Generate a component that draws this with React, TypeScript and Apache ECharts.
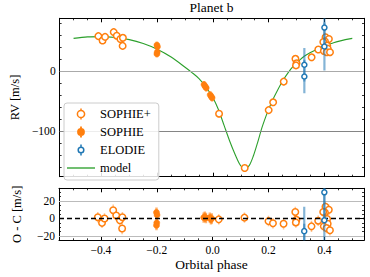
import React, { useEffect, useRef } from 'react';
import * as echarts from 'echarts';

// ---------- data ----------
const sophiePlusPhase = [-0.411, -0.396, -0.387, -0.356, -0.345, -0.332, -0.323, -0.324, 0.022, 0.114, 0.200, 0.216, 0.254, 0.296, 0.300, 0.298, 0.354, 0.378, 0.404, 0.416, 0.402, 0.396, 0.410, 0.412, 0.398, 0.408, 0.420];
const sophiePlusRV = [57.8, 50.5, 56.5, 64.5, 58.5, 53, 55, 41.5, -71.5, -162, -65.5, -52.5, -18, 20, 12.5, 9, 22.5, 35.5, 56, 53, 49, 48, 42, 37, 33, 31, 31];
const sophiePlusErr = [6, 6, 6, 6.5, 6, 6, 6, 6.5, 6, 6, 6, 6, 6.5, 6, 6, 6, 6.5, 6, 6.5, 6, 6, 6, 6, 6, 6, 6, 6];
const sophiePlusResidual = [1.5, -5, 0, 9.5, 3.5, -2, 1.5, -11.5, -1, 1, -3, -5.5, -6, 7.5, -1.5, -4.5, -9, -2.5, 13.5, 10, 7, 7.5, -0.5, -6, -9, -11, -13.5];

const sophiePhase = [-0.201, -0.199, -0.200, -0.201, -0.032, -0.028, -0.024, -0.010, -0.006, -0.003];
const sophieRV = [43, 40, 31, 28, -23, -26, -28.5, -40, -43, -45];
const sophieErr = [5.5, 5.5, 5.5, 5.5, 6, 6, 6, 6, 6, 6];
const sophieResidual = [7, 4, -5, -8, 1, 2, 0.5, 1, -1, 0];

const elodiePhase = [0.328, 0.328, 0.400, 0.400];
const elodieRV = [10, -9.5, 72, 40.5];
const elodieErr = [28, 28, 35, 40];
const elodieResidual = [-14.5, -34, 30, -2];

const modelPhase = [-0.5, -0.45, -0.4, -0.35, -0.3, -0.25, -0.2, -0.15, -0.1, -0.075, -0.05, -0.025, 0, 0.02, 0.04, 0.06, 0.08, 0.095, 0.105, 0.115, 0.13, 0.145, 0.16, 0.175, 0.19, 0.2, 0.215, 0.23, 0.25, 0.27, 0.29, 0.31, 0.33, 0.35, 0.375, 0.4, 0.425, 0.45, 0.475, 0.5];
const modelRV = [54, 56.5, 57, 55.5, 52, 45.5, 36, 23, 6, -3, -13, -27, -45, -65, -91, -117, -140, -155, -161, -163, -158, -142, -120, -96, -76, -64, -48, -34, -17, -3, 8.5, 17.5, 25, 30.5, 36.5, 42, 45.5, 49, 52, 54];

// ticks
const phaseMajorTicks = [-0.4, -0.2, 0, 0.2, 0.4];
const phaseMinorTicks = [-0.5, -0.45, -0.35, -0.3, -0.25, -0.15, -0.1, -0.05, 0.05, 0.1, 0.15, 0.25, 0.3, 0.35, 0.45, 0.5];
const rvMajorTicks = [-100, 0];
const rvMinorTicks = [-160, -140, -120, -80, -60, -40, -20, 20, 40, 60, 80];
const resMajorTicks = [-20, 0, 20];
const resMinorTicks = [-25, -15, -10, -5, 5, 10, 15, 25, 30];

// reference lines
const rvRefLines = [0, -100];
const resGridLines = [20, -20];
const resZeroLine = 0;

const FONT = 'Liberation Serif';
const TICK_SIZE = 11.5;
const ORANGE = '#ff7f0e';
const BLUE = '#1f77b4';
const GREEN = '#2ca02c';

const PHASE_MIN = -0.55;
const PHASE_MAX = 0.542;

const fmtMinus = (s: string) => s.replace('-', '\u2212');

function xAxes(grid: number, showLabels: boolean, name: string) {
  const base: any = { type: 'value', gridIndex: grid, min: PHASE_MIN, max: PHASE_MAX, splitLine: { show: false } };
  const line = { show: true, onZero: false, lineStyle: { color: '#000', width: 1 } };
  const noLine = { show: false, onZero: false };
  const major = { show: true, inside: true, length: 4, customValues: phaseMajorTicks, lineStyle: { color: '#000', width: 1 } };
  const minor = { show: true, inside: true, length: 2, customValues: phaseMinorTicks, lineStyle: { color: '#000', width: 0.8 } };
  return [
    {
      ...base, position: 'bottom', axisLine: line, axisTick: major,
      axisLabel: {
        show: showLabels, customValues: phaseMajorTicks, margin: 4, color: '#000', fontFamily: FONT, fontSize: TICK_SIZE, fontWeight: 'normal',
        formatter: (v: number) => fmtMinus(v.toFixed(1)),
      },
      name: name, nameLocation: 'middle', nameGap: 17,
      nameTextStyle: { color: '#000', fontFamily: FONT, fontSize: 13.5, fontWeight: 'normal' },
    },
    { ...base, position: 'bottom', axisLine: noLine, axisTick: minor, axisLabel: { show: false } },
    { ...base, position: 'top', axisLine: line, axisTick: major, axisLabel: { show: false } },
    { ...base, position: 'top', axisLine: noLine, axisTick: minor, axisLabel: { show: false } },
  ];
}

function yAxes(grid: number, min: number, max: number, majors: number[], minors: number[], name: string, nameGap: number) {
  const base: any = { type: 'value', gridIndex: grid, min, max, splitLine: { show: false } };
  const line = { show: true, onZero: false, lineStyle: { color: '#000', width: 1 } };
  const noLine = { show: false, onZero: false };
  const major = { show: true, inside: true, length: 4, customValues: majors, lineStyle: { color: '#000', width: 1 } };
  const minor = { show: true, inside: true, length: 2, customValues: minors, lineStyle: { color: '#000', width: 0.8 } };
  return [
    {
      ...base, position: 'left', axisLine: line, axisTick: major,
      axisLabel: {
        show: true, customValues: majors, margin: 4, color: '#000', fontFamily: FONT, fontSize: TICK_SIZE, fontWeight: 'normal',
        formatter: (v: number) => fmtMinus(String(v)),
      },
      name, nameLocation: 'middle', nameRotate: 90, nameGap,
      nameTextStyle: { color: '#000', fontFamily: FONT, fontSize: 12.5, fontWeight: 'normal' },
    },
    { ...base, position: 'left', axisLine: noLine, axisTick: minor, axisLabel: { show: false } },
    { ...base, position: 'right', axisLine: line, axisTick: major, axisLabel: { show: false } },
    { ...base, position: 'right', axisLine: noLine, axisTick: minor, axisLabel: { show: false } },
  ];
}

const triples = (xs: number[], ys: number[], es: number[]) => xs.map((x, i) => [x, ys[i], es[i]]);
const pairs = (xs: number[], ys: number[]) => xs.map((x, i) => [x, ys[i]]);

function errorBars(name: string, axisIdx: number, data: number[][], color: string, width: number, opacity: number, z: number) {
  return {
    name, type: 'custom', xAxisIndex: axisIdx, yAxisIndex: axisIdx, clip: true, z, silent: true,
    data, encode: { x: 0, y: 1 },
    renderItem: (_params: any, api: any) => {
      const x = api.value(0);
      const y = api.value(1);
      const e = api.value(2);
      const a = api.coord([x, y - e]);
      const b = api.coord([x, y + e]);
      return {
        type: 'line',
        shape: { x1: a[0], y1: a[1], x2: b[0], y2: b[1] },
        style: { stroke: color, lineWidth: width, opacity },
      };
    },
  };
}

function markers(name: string, axisIdx: number, data: number[][], kind: 'open' | 'filled' | 'blue', z: number) {
  const style =
    kind === 'open' ? { color: '#ffffff', borderColor: ORANGE, borderWidth: 1.5 } :
    kind === 'filled' ? { color: ORANGE, borderColor: ORANGE, borderWidth: 0.5 } :
    { color: '#ffffff', borderColor: BLUE, borderWidth: 1.5 };
  const size = kind === 'open' ? 6.5 : kind === 'filled' ? 6 : 5;
  return {
    name, type: 'scatter', xAxisIndex: axisIdx, yAxisIndex: axisIdx, data,
    symbol: 'circle', symbolSize: size, itemStyle: { ...style, opacity: 1 }, z, silent: true,
  };
}

const openIcon = 'path://M5,0L5,1.9M5,9.1L5,11M1.4,5.5A3.6,3.6,0,1,1,8.6,5.5A3.6,3.6,0,1,1,1.4,5.5Z';
const filledIcon = 'path://M5,0L5,2.5M5,8.5L5,11M2,5.5A3,3,0,1,1,8,5.5A3,3,0,1,1,2,5.5Z';
const blueIcon = 'path://M5,0L5,2.7M5,8.3L5,11M2.2,5.5A2.8,2.8,0,1,1,7.8,5.5A2.8,2.8,0,1,1,2.2,5.5Z';
const lineIcon = 'path://M0,0L27,0L27,1.3L0,1.3Z';

export default function App() {
  const ref = useRef<HTMLDivElement>(null);
  useEffect(() => {
    if (!ref.current) return;
    const chart = echarts.init(ref.current, undefined, { renderer: 'svg' });
    const TOP = 0;
    const BOT = 4;
    const option: any = {
      animation: false,
      backgroundColor: '#ffffff',
      grid: [
        { left: 59, right: 6, top: 18.3, height: 158.4 },
        { left: 59, right: 6, top: 188.3, height: 52 },
      ],
      xAxis: [...xAxes(0, false, ''), ...xAxes(1, true, 'Orbital phase')],
      yAxis: [
        ...yAxes(0, -176.5, 87.5, rvMajorTicks, rvMinorTicks, 'RV [m/s]', 38),
        ...yAxes(1, -25, 34.6, resMajorTicks, resMinorTicks, 'O - C [m/s]', 36),
      ],
      graphic: [
        {
          type: 'text', x: 211.5, y: 7.5,
          style: { text: 'Planet b', textAlign: 'center', textVerticalAlign: 'middle', font: `13.5px "${FONT}"`, fill: '#000' },
        },
      ],
      legend: {
        orient: 'vertical', left: 64, top: 103,
        padding: [4.5, 8, 5.5, 3], itemGap: 5, itemWidth: 28, itemHeight: 11,
        backgroundColor: 'rgba(255,255,255,0.85)', borderColor: '#cccccc', borderWidth: 1, borderRadius: 3,
        textStyle: { fontFamily: FONT, fontSize: 12.5, color: '#000', fontWeight: 'normal' },
        selectedMode: false,
        data: [
          { name: 'SOPHIE+', icon: openIcon, itemStyle: { color: '#ffffff', borderColor: ORANGE, borderWidth: 1.5 } },
          { name: 'SOPHIE', icon: filledIcon, itemStyle: { color: ORANGE, borderColor: ORANGE, borderWidth: 1.8 } },
          { name: 'ELODIE', icon: blueIcon, itemStyle: { color: '#ffffff', borderColor: BLUE, borderWidth: 1.5 } },
          { name: 'model', icon: lineIcon, itemStyle: { color: GREEN, borderWidth: 0 } },
        ],
        z: 20,
      },
      series: [
        // top panel
        {
          name: 'model', type: 'line', xAxisIndex: TOP, yAxisIndex: TOP,
          data: pairs(modelPhase, modelRV), smooth: 0.3, showSymbol: false, symbol: 'none',
          lineStyle: { color: GREEN, width: 1.1 }, itemStyle: { color: GREEN }, z: 2, silent: true,
          markLine: {
            silent: true, symbol: ['none', 'none'], label: { show: false }, animation: false,
            data: rvRefLines.map((v, i) => ({ yAxis: v, lineStyle: { color: i === 0 ? '#aaaaaa' : '#858585', width: 1, type: 'solid' } })),
          },
        },
        errorBars('SOPHIE+ err', TOP, triples(sophiePlusPhase, sophiePlusRV, sophiePlusErr), ORANGE, 1.5, 0.45, 3),
        markers('SOPHIE+', TOP, pairs(sophiePlusPhase, sophiePlusRV), 'open', 4),
        errorBars('SOPHIE err', TOP, triples(sophiePhase, sophieRV, sophieErr), ORANGE, 2.5, 0.6, 3),
        markers('SOPHIE', TOP, pairs(sophiePhase, sophieRV), 'filled', 4),
        errorBars('ELODIE err', TOP, triples(elodiePhase, elodieRV, elodieErr), BLUE, 2.2, 0.55, 5),
        markers('ELODIE', TOP, pairs(elodiePhase, elodieRV), 'blue', 6),
        // bottom panel
        {
          name: 'ref', type: 'line', xAxisIndex: BOT, yAxisIndex: BOT, data: [], silent: true,
          markLine: {
            silent: true, symbol: ['none', 'none'], label: { show: false }, animation: false,
            data: [
              ...resGridLines.map((v) => ({ yAxis: v, lineStyle: { color: '#bbbbbb', width: 1, type: 'solid' } })),
              { yAxis: resZeroLine, lineStyle: { color: '#000000', width: 1.4, type: [5, 3] } },
            ],
          },
        },
        errorBars('SOPHIE+ err b', BOT, triples(sophiePlusPhase, sophiePlusResidual, sophiePlusErr), ORANGE, 1.5, 0.45, 3),
        markers('SOPHIE+', BOT, pairs(sophiePlusPhase, sophiePlusResidual), 'open', 4),
        errorBars('SOPHIE err b', BOT, triples(sophiePhase, sophieResidual, sophieErr), ORANGE, 2.5, 0.6, 3),
        markers('SOPHIE', BOT, pairs(sophiePhase, sophieResidual), 'filled', 4),
        errorBars('ELODIE err b', BOT, triples(elodiePhase, elodieResidual, elodieErr), BLUE, 2.2, 0.55, 5),
        markers('ELODIE', BOT, pairs(elodiePhase, elodieResidual), 'blue', 6),
      ],
    };
    chart.setOption(option);
    return () => chart.dispose();
  }, []);
  return <div ref={ref} style={{ position: 'fixed', left: 0, top: 0, width: 370, height: 277, background: '#fff' }} />;
}
